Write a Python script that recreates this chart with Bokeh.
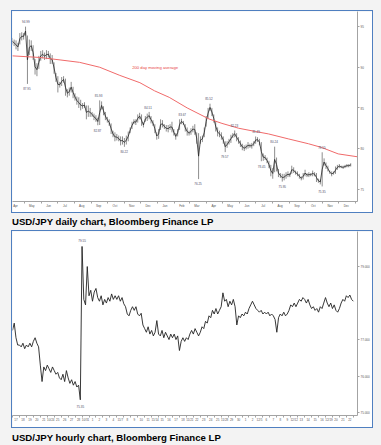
import numpy as np
import pandas as pd
from bokeh.plotting import figure
from bokeh.models import Range1d, FixedTicker, Label, Div, ColumnDataSource, AllLabels
from bokeh.layouts import column
from bokeh.embed import file_html
from bokeh.resources import INLINE
from bokeh.core.properties import value

FONT = "Liberation Sans"
BASE = pd.Timestamp("2010-04-01")


def day(d):
    return float((pd.Timestamp(d) - BASE) / pd.Timedelta(days=1))


# ---------------- daily chart data (half-weekly high / low) ----------------
daily_start = "2010-04-09"
daily_step = 3.5  # days between samples
daily_high = [
    93.6, 93.4, 93.3, 93.0, 94.2, 94.3, 94.2, 94.99, 93.9, 93.4,
    93.3, 92.7, 91.0, 90.5, 91.4, 92.0, 92.1, 91.8, 92.1, 92.0,
    91.7, 91.5, 90.6, 89.3, 88.9, 88.2, 88.8, 88.9, 88.6, 87.3,
    87.5, 88.2, 87.6, 86.8, 86.4, 86.3, 86.0, 85.6, 85.7, 85.3,
    85.3, 85.0, 84.5, 84.3, 84.1, 83.8, 85.93, 85.8, 85.2, 84.5,
    83.9, 83.6, 83.1, 82.2, 82.0, 81.8, 81.6, 81.5, 81.5, 81.3,
    81.6, 82.1, 82.6, 83.3, 83.6, 83.6, 84.2, 84.4, 84.2, 83.2,
    84.0, 84.3, 84.51, 84.0, 83.5, 83.0, 82.0, 82.4, 83.6, 83.5,
    83.0, 82.9, 82.9, 83.0, 83.3, 82.4, 81.9, 82.4, 83.6, 83.67,
    83.4, 83.0, 82.6, 82.2, 82.5, 82.8, 83.0, 82.0, 81.9, 81.5,
    81.6, 82.6, 84.0, 85.0, 85.52, 85.0, 84.2, 83.4, 82.6, 82.2,
    82.0, 81.5, 80.9, 80.9, 81.2, 81.7, 81.9, 82.23, 81.9, 81.4,
    81.0, 80.6, 80.4, 80.5, 80.8, 80.6, 80.7, 80.9, 81.49, 81.4,
    81.2, 80.8, 79.4, 79.2, 78.9, 78.5, 78.0, 77.6, 80.24, 78.9,
    77.5, 77.0, 76.9, 76.9, 77.1, 77.2, 77.0, 77.9, 77.7, 77.3,
    77.2, 76.9, 76.6, 77.0, 77.4, 77.0, 77.1, 77.0, 77.3, 77.1,
    77.0, 76.3, 76.2, 79.55, 78.8, 78.3, 77.9, 77.3, 77.2, 77.2,
    77.8, 78.0, 78.1, 77.9, 77.9, 78.0, 78.1, 78.1, 78.2,
]
daily_low = [
    92.8, 92.6, 92.2, 92.0, 92.8, 93.3, 93.4, 93.9, 87.95, 91.5,
    92.0, 90.9, 89.1, 88.9, 89.8, 90.8, 91.1, 90.9, 91.0, 91.2,
    90.4, 90.4, 89.2, 88.2, 86.9, 87.5, 87.7, 88.1, 86.5, 86.3,
    86.5, 86.9, 86.2, 85.9, 85.4, 85.0, 84.7, 84.9, 85.0, 83.6,
    83.9, 83.9, 83.9, 83.5, 83.3, 82.87, 82.9, 84.8, 84.1, 83.5,
    83.2, 82.8, 81.8, 81.4, 80.9, 81.0, 80.9, 80.4, 80.5, 80.22,
    80.5, 80.9, 81.9, 82.4, 83.0, 82.9, 83.2, 83.6, 82.8, 82.6,
    83.3, 83.4, 83.6, 83.1, 82.8, 81.9, 81.1, 81.2, 82.3, 82.6,
    82.4, 82.1, 82.0, 82.3, 82.0, 81.6, 81.1, 81.5, 82.3, 83.0,
    82.9, 82.1, 81.6, 81.6, 81.7, 82.0, 81.7, 80.6, 76.25, 80.6,
    80.8, 81.4, 82.7, 83.7, 84.6, 84.0, 83.2, 82.1, 81.5, 81.4,
    81.1, 80.6, 79.57, 80.1, 80.5, 80.7, 81.3, 81.4, 80.9, 80.6,
    80.2, 79.8, 79.7, 79.9, 80.0, 80.1, 80.0, 80.3, 80.6, 80.8,
    80.4, 78.45, 78.5, 78.6, 78.2, 77.6, 76.6, 76.3, 77.1, 77.2,
    76.5, 76.4, 75.95, 76.1, 76.3, 76.5, 76.5, 76.9, 77.0, 76.8,
    76.6, 76.3, 76.1, 76.2, 76.6, 76.5, 76.5, 76.6, 76.6, 76.6,
    75.9, 75.8, 75.6, 75.35, 77.9, 77.5, 77.2, 76.9, 76.6, 76.8,
    76.9, 77.4, 77.6, 77.6, 77.5, 77.6, 77.7, 77.7, 77.8,
]

ma_dates = ["2010-04-09", "2010-05-30", "2010-07-06", "2010-08-11", "2010-09-17",
            "2010-10-24", "2010-11-30", "2010-12-27", "2011-01-23", "2011-02-25",
            "2011-04-06", "2011-04-30", "2011-05-31", "2011-07-01", "2011-07-25",
            "2011-08-30", "2011-10-06", "2011-10-30", "2011-11-30", "2012-01-04"]
ma_values = [91.4, 91.2, 90.9, 90.6, 90.0, 89.0, 88.1, 87.1, 86.3, 85.0,
             83.65, 83.1, 82.5, 82.1, 81.8, 81.2, 80.6, 80.15, 79.35, 79.0]

month_labels = ["Apr", "May", "Jun", "Jul", "Aug", "Sep", "Oct", "Nov", "Dec",
                "Jan", "Feb", "Mar", "Apr", "May", "Jun", "Jul", "Aug", "Sep",
                "Oct", "Nov", "Dec"]
year_labels = ["2010", "2011"]
daily_yticks = [75, 80, 85, 90, 95]

peak_dates = ["2010-05-04", "2010-05-06", "2010-09-15", "2010-09-13", "2010-11-01",
              "2010-12-15", "2011-02-16", "2011-04-06", "2011-03-17", "2011-05-05",
              "2011-05-23", "2011-07-02", "2011-07-12", "2011-08-04", "2011-08-19",
              "2011-10-31", "2011-10-31"]
peak_values = [94.99, 87.95, 85.93, 82.87, 80.22, 84.51, 83.67, 85.52, 76.25, 79.57,
               82.23, 81.49, 78.45, 80.24, 75.95, 79.55, 75.35]
peak_side = ["above", "below", "above", "below", "below", "above", "above", "above",
             "below", "below", "above", "above", "below", "above", "below", "above",
             "below"]

daily_last = 78.05
daily_ma_last = 79.07

# ---------------- hourly chart data (4 samples per trading day) ----------------
hourly_close = [
    77.25, 77.45, 77.05, 76.85,
    76.85, 76.80, 76.90, 76.75,
    76.85, 76.80, 76.90, 76.80,
    76.95, 77.05, 76.90, 76.80,
    76.30, 75.85, 76.25, 76.15,
    76.30, 76.20, 76.10, 76.25,
    76.15, 76.05, 76.10, 75.95,
    75.90, 76.05, 75.85, 76.15,
    75.95, 75.80, 75.90, 75.75,
    75.85, 75.70, 75.75, 75.35,
    79.55, 78.10, 77.95, 79.00,
    78.20, 78.35, 78.05, 78.30,
    78.40, 78.15, 78.05, 78.20,
    77.95, 78.10, 78.00, 78.15,
    78.05, 78.25, 78.10, 78.20,
    78.10, 78.20, 78.05, 78.15,
    77.98, 77.90, 77.70, 77.65,
    77.80, 77.90, 77.80, 77.90,
    77.70, 77.65, 77.72, 77.40,
    77.30, 77.20, 77.35, 77.15,
    77.25, 77.10, 77.20, 77.52,
    77.15, 77.10, 77.25, 77.05,
    77.20, 77.10, 77.00, 77.15,
    77.05, 77.15, 77.00, 77.10,
    76.70, 76.95, 77.05, 76.95,
    77.05, 77.00, 77.15, 77.25,
    77.15, 77.30, 77.20, 77.10,
    77.20, 77.35, 77.30, 77.50,
    77.45, 77.65, 77.60, 77.80,
    77.70, 77.85, 77.70, 77.80,
    77.90, 78.28, 78.05, 78.10,
    77.90, 78.05, 77.95, 78.10,
    77.90, 77.40, 77.65, 77.60,
    77.70, 77.65, 77.75, 77.70,
    77.85, 77.95, 78.05, 77.95,
    77.85, 77.80, 77.75, 77.80,
    77.70, 77.75, 77.70, 77.75,
    77.65, 77.70, 77.65, 77.55,
    77.20, 77.60, 77.70, 77.65,
    77.75, 77.65, 77.70, 77.80,
    77.95, 77.90, 78.00, 77.90,
    78.00, 78.10, 78.05, 78.15,
    78.10, 78.00, 78.10, 77.95,
    77.85, 77.90, 77.80, 77.85,
    77.75, 77.90, 77.85, 78.00,
    78.15, 78.00, 77.90, 78.00,
    77.85, 77.95, 77.80, 77.75,
    77.85, 78.00, 78.10, 78.05,
    78.20, 78.15, 78.22, 78.10,
    78.05,
]
hourly_samples_per_day = 4
hourly_day_labels = [
    "17", "18", "19", "20", "21",
    "10/24", "25", "26", "27", "28",
    "10/31", "1", "2", "3", "4",
    "11/7", "8", "9", "10", "11",
    "11/14", "15", "16", "17", "18",
    "11/21", "22", "23", "24", "25",
    "11/28", "29", "30", "1", "2",
    "12/5", "6", "7", "8", "9",
    "12/12", "13", "14", "15", "16",
    "12/19", "20", "21", "22",
]
hourly_yticks = [75, 76, 77, 79]
hourly_ytick_labels = ["75.000", "76.000", "77.000", "79.000"]
hourly_peak_t = [10.0, 9.75]
hourly_peak_values = [79.55, 75.35]
hourly_peak_side = ["above", "below"]
hourly_last = 78.05

GREY_AX = "#a3a3a3"
LAB = "#555555"
PEAK_COL = "#4a4a66"


def style_axes(p):
    for ax in p.axis:
        ax.axis_line_color = GREY_AX
        ax.major_tick_line_color = GREY_AX
        ax.minor_tick_line_color = GREY_AX
        ax.major_tick_in = 0
        ax.minor_tick_in = 0
        ax.major_label_text_font = FONT
        ax.major_label_text_color = LAB
        ax.major_label_text_font_size = "3px"
        ax.major_label_standoff = 1
        ax.major_label_policy = AllLabels()
    p.grid.visible = False


# ================= daily figure =================
f1 = figure(width=360, height=201, x_range=Range1d(8.5, 643.5), y_range=Range1d(73.5, 96.85),
            output_backend="svg", toolbar_location=None, y_axis_location="right",
            min_border_left=0, min_border_right=13, min_border_top=0, min_border_bottom=11,
            outline_line_color=None, background_fill_color="white", border_fill_color="white",
            margin=(11, 9, 0, 12), styles={"outline": "1px solid #4f7fc0"})
style_axes(f1)

month_starts = pd.date_range("2010-04-01", periods=len(month_labels) + 1, freq="MS")
mid_days = [int(day(m + pd.Timedelta(days=14))) for m in month_starts[:len(month_labels)]]
f1.xaxis.ticker = FixedTicker(ticks=mid_days, minor_ticks=[int(day(m)) for m in month_starts])
f1.xaxis.major_label_overrides = {d: lab for d, lab in zip(mid_days, month_labels)}
f1.xaxis.major_tick_line_color = None
f1.xaxis.major_tick_out = 0
f1.xaxis.minor_tick_out = 2
f1.yaxis.ticker = FixedTicker(ticks=daily_yticks, minor_ticks=[])
f1.yaxis.major_tick_out = 2

dsrc = ColumnDataSource(dict(
    x=[day(daily_start) + daily_step * i for i in range(len(daily_high))],
    hi=daily_high, lo=daily_low,
    mid=[(h + l) / 2 for h, l in zip(daily_high, daily_low)]))
f1.segment(x0="x", y0="lo", x1="x", y1="hi", source=dsrc, line_color="#707070", line_width=0.8)
f1.line(x="x", y="mid", source=dsrc, line_color="#262626", line_width=0.8)
f1.line([day(d) for d in ma_dates], ma_values, line_color="#f06a6a", line_width=1)

f1.add_layout(Label(x=day("2010-12-28"), y=89.95, text="200 day moving average",
                    text_font=FONT, text_font_size="4.2px", text_color="#e84545",
                    text_align="center", text_baseline="middle"))

psrc = ColumnDataSource(dict(
    x=[day(d) for d in peak_dates], y=peak_values,
    text=[f"{v:.2f}" for v in peak_values],
    off=[-5 if s == "above" else 4.5 for s in peak_side]))
f1.text(x="x", y="y", text="text", y_offset="off", source=psrc, text_align="center",
        text_baseline="middle", text_font_size="3px", text_color=PEAK_COL,
        text_font=value(FONT))

# year labels centred on the visible part of each year
yr_x = [(8.5 + day("2011-01-01")) / 2, (day("2011-01-01") + 643.5) / 2]
for xx, yl in zip(yr_x, year_labels):
    f1.add_layout(Label(x=xx, y=-7, y_units="screen", text=yl, text_font=FONT,
                        text_font_size="3px", text_color=LAB, text_align="center",
                        text_baseline="middle"))

f1.add_layout(Label(x=348, y=daily_ma_last, x_units="screen", text=f"{daily_ma_last:.3f}",
                    text_font=FONT, text_font_size="3px", text_color="white",
                    background_fill_color="#e2372f", text_align="left",
                    text_baseline="middle", padding=1))
f1.add_layout(Label(x=348, y=daily_last, x_units="screen", text=f"{daily_last:.3f}",
                    text_font=FONT, text_font_size="3px", text_color="#222222",
                    background_fill_color="#ececec", border_line_color="#9a9a9a",
                    text_align="left", text_baseline="middle", padding=1))
f1.add_layout(Label(x=0, y=-9.5, x_units="screen", y_units="screen",
                    text="Copyright 2011 Bloomberg Finance L.P.", text_font=FONT,
                    text_font_size="2.3px", text_color="#6a6a8a", text_baseline="middle"))
f1.add_layout(Label(x=358, y=-9.8, x_units="screen", y_units="screen",
                    text="22-Dec-2011 09:53:12", text_font=FONT,
                    text_font_size="2.3px", text_color="#6a6a8a", text_align="right",
                    text_baseline="middle"))

# ================= hourly figure =================
n_days = len(hourly_day_labels)
f2 = figure(width=360, height=196, x_range=Range1d(0, 49.6), y_range=Range1d(74.92, 79.96),
            output_backend="svg", toolbar_location=None, y_axis_location="right",
            min_border_left=0, min_border_right=13, min_border_top=0, min_border_bottom=12,
            outline_line_color=None, background_fill_color="white", border_fill_color="white",
            margin=(0, 9, 0, 12), styles={"outline": "1px solid #4f7fc0"})
style_axes(f2)
tick_t = [d + 0.5 for d in range(n_days)]
f2.xaxis.ticker = FixedTicker(ticks=tick_t, minor_ticks=list(range(n_days + 1)))
f2.xaxis.major_label_overrides = {t: lab for t, lab in zip(tick_t, hourly_day_labels)}
f2.xaxis.major_tick_line_color = None
f2.xaxis.major_tick_out = 0
f2.xaxis.minor_tick_out = 2
f2.yaxis.ticker = FixedTicker(ticks=hourly_yticks, minor_ticks=[])
f2.yaxis.major_label_overrides = {t: lab for t, lab in zip(hourly_yticks, hourly_ytick_labels)}
f2.yaxis.major_tick_out = 2

ht = [i / hourly_samples_per_day for i in range(len(hourly_close))]
f2.line(ht, hourly_close, line_color="#222222", line_width=0.9)

hsrc = ColumnDataSource(dict(
    x=hourly_peak_t, y=hourly_peak_values,
    text=[f"{v:.2f}" for v in hourly_peak_values],
    off=[-6 if s == "above" else 6 for s in hourly_peak_side]))
f2.text(x="x", y="y", text="text", y_offset="off", source=hsrc, text_align="center",
        text_baseline="middle", text_font_size="3px", text_color=PEAK_COL,
        text_font=value(FONT))
f2.add_layout(Label(x=24.5, y=-6, y_units="screen", text="2011", text_font=FONT,
                    text_font_size="3px", text_color=LAB, text_align="center",
                    text_baseline="middle"))
f2.add_layout(Label(x=348, y=hourly_last, x_units="screen", text=f"{hourly_last:.3f}",
                    text_font=FONT, text_font_size="3px", text_color="#222222",
                    background_fill_color="#f2f2f2", border_line_color="#9a9a9a",
                    text_align="left", text_baseline="middle", padding=1))
f2.add_layout(Label(x=0, y=-9, x_units="screen", y_units="screen",
                    text="Copyright 2011 Bloomberg Finance L.P.", text_font=FONT,
                    text_font_size="2.3px", text_color="#6a6a8a", text_baseline="middle"))
f2.add_layout(Label(x=358, y=-10, x_units="screen", y_units="screen",
                    text="22-Dec-2011 09:53:38", text_font=FONT,
                    text_font_size="2.3px", text_color="#6a6a8a", text_align="right",
                    text_baseline="middle"))

CAP = ("<div style=\"padding-top:{pt}px;font-family:'Liberation Sans',Arial,sans-serif;"
       "font-weight:bold;font-size:9.6px;color:#000;white-space:nowrap\">{t}</div>")
d1 = Div(text=CAP.format(pt=3, t="USD/JPY daily chart, Bloomberg Finance LP"),
         width=369, height=19, margin=(0, 0, 0, 12))
d2 = Div(text=CAP.format(pt=4, t="USD/JPY hourly chart, Bloomberg Finance LP"),
         width=369, height=18, margin=(0, 0, 0, 12))

root = column(f1, d1, f2, d2, spacing=0, margin=(0, 0, 0, 0),
              styles={"background-color": "#f3f3f3"})

open("out.html", "w").write(file_html(root, INLINE))
